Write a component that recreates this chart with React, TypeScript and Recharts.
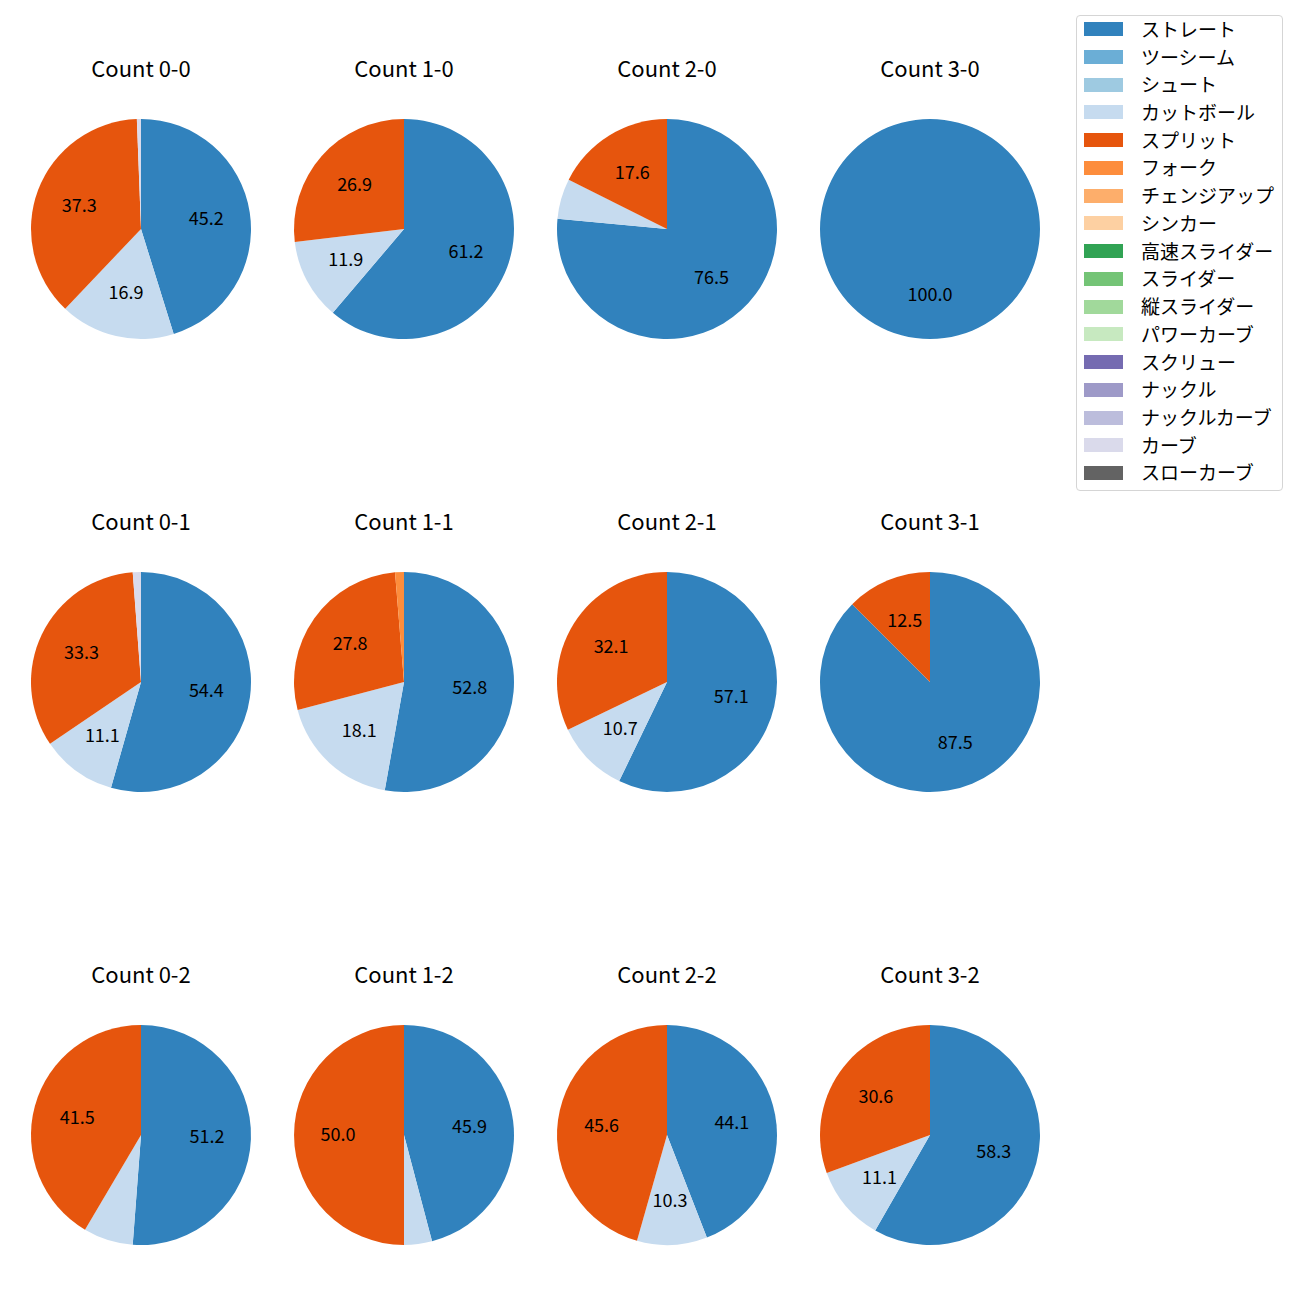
import { PieChart, Pie, Cell } from "recharts";

const pitchTypes = [
  "ストレート", "ツーシーム", "シュート", "カットボール", "スプリット", "フォーク",
  "チェンジアップ", "シンカー", "高速スライダー", "スライダー", "縦スライダー",
  "パワーカーブ", "スクリュー", "ナックル", "ナックルカーブ", "カーブ", "スローカーブ",
];

const pitchColors = [
  "#3182bd", "#6baed6", "#9ecae1", "#c6dbef", "#e6550d", "#fd8d3c",
  "#fdae6b", "#fdd0a2", "#31a354", "#74c476", "#a1d99b", "#c7e9c0",
  "#756bb1", "#9e9ac8", "#bcbddc", "#dadaeb", "#636363",
];

const countTitles = [
  "Count 0-0", "Count 1-0", "Count 2-0", "Count 3-0",
  "Count 0-1", "Count 1-1", "Count 2-1", "Count 3-1",
  "Count 0-2", "Count 1-2", "Count 2-2", "Count 3-2",
];

// share (%) per pitch type, same order as pitchTypes
const count00 = [45.2, 0, 0, 16.9, 37.3, 0, 0, 0, 0, 0, 0, 0, 0, 0, 0, 0.6, 0];
const count10 = [61.2, 0, 0, 11.9, 26.9, 0, 0, 0, 0, 0, 0, 0, 0, 0, 0, 0, 0];
const count20 = [76.5, 0, 0, 5.9, 17.6, 0, 0, 0, 0, 0, 0, 0, 0, 0, 0, 0, 0];
const count30 = [100.0, 0, 0, 0, 0, 0, 0, 0, 0, 0, 0, 0, 0, 0, 0, 0, 0];
const count01 = [54.4, 0, 0, 11.1, 33.3, 0, 0, 0, 0, 0, 0, 0, 0, 0, 0, 1.2, 0];
const count11 = [52.8, 0, 0, 18.1, 27.8, 1.3, 0, 0, 0, 0, 0, 0, 0, 0, 0, 0, 0];
const count21 = [57.1, 0, 0, 10.7, 32.1, 0, 0, 0, 0, 0, 0, 0, 0, 0, 0, 0, 0];
const count31 = [87.5, 0, 0, 0, 12.5, 0, 0, 0, 0, 0, 0, 0, 0, 0, 0, 0, 0];
const count02 = [51.2, 0, 0, 7.3, 41.5, 0, 0, 0, 0, 0, 0, 0, 0, 0, 0, 0, 0];
const count12 = [45.9, 0, 0, 4.1, 50.0, 0, 0, 0, 0, 0, 0, 0, 0, 0, 0, 0, 0];
const count22 = [44.1, 0, 0, 10.3, 45.6, 0, 0, 0, 0, 0, 0, 0, 0, 0, 0, 0, 0];
const count32 = [58.3, 0, 0, 11.1, 30.6, 0, 0, 0, 0, 0, 0, 0, 0, 0, 0, 0, 0];

const allCounts = [
  count00, count10, count20, count30,
  count01, count11, count21, count31,
  count02, count12, count22, count32,
];

const FONT = '"Noto Sans CJK JP", "Noto Sans", sans-serif';
const RAD = Math.PI / 180;
const R = 110;
const colX = [141, 404, 667, 930];
const rowY = [229, 682, 1135];

const renderLabel = (props: any) => {
  const { cx, cy, midAngle, outerRadius, value } = props;
  if (value < 10) return null;
  const r = outerRadius * 0.6;
  const x = cx + r * Math.cos(-midAngle * RAD);
  const y = cy + r * Math.sin(-midAngle * RAD) - 2;
  return (
    <text x={x} y={y} textAnchor="middle" dominantBaseline="central" fill="#000" fontSize={18} fontFamily={FONT}>
      {Number(value).toFixed(1)}
    </text>
  );
};

function CountPie({ title, values, cx, cy }: { title: string; values: number[]; cx: number; cy: number }) {
  const data = values
    .map((v, i) => ({ name: pitchTypes[i], value: v, color: pitchColors[i] }))
    .filter((d) => d.value > 0);
  const size = 260;
  return (
    <>
      <div
        style={{
          position: "absolute",
          left: cx - 120,
          width: 240,
          top: cy - 175,
          textAlign: "center",
          fontFamily: FONT,
          fontSize: 22,
          lineHeight: "26px",
          color: "#000",
        }}
      >
        {title}
      </div>
      <div style={{ position: "absolute", left: cx - size / 2, top: cy - size / 2 }}>
        <PieChart width={size} height={size} margin={{ top: 0, right: 0, bottom: 0, left: 0 }}>
          <Pie
            data={data}
            dataKey="value"
            nameKey="name"
            cx={size / 2}
            cy={size / 2}
            outerRadius={R}
            startAngle={90}
            endAngle={-270}
            stroke="none"
            label={renderLabel}
            labelLine={false}
            isAnimationActive={false}
          >
            {data.map((d) => (
              <Cell key={d.name} fill={d.color} />
            ))}
          </Pie>
        </PieChart>
      </div>
    </>
  );
}

function Legend() {
  return (
    <div
      style={{
        position: "absolute",
        left: 1076,
        top: 15,
        width: 205,
        height: 474,
        border: "1px solid #d5d5d5",
        borderRadius: 4,
        background: "#fff",
        fontFamily: FONT,
        fontSize: 19,
      }}
    >
      {pitchTypes.map((p, i) => (
        <div key={p} style={{ position: "absolute", left: 0, top: 13.3 + i * 27.73 - 14, height: 28, display: "flex", alignItems: "center" }}>
          <div style={{ marginLeft: 7, width: 39, height: 14, background: pitchColors[i] }} />
          <span style={{ marginLeft: 18, whiteSpace: "nowrap", color: "#000", position: "relative", top: -1 }}>{p}</span>
        </div>
      ))}
    </div>
  );
}

export default function App() {
  return (
    <div style={{ position: "absolute", left: 0, top: 0, width: 1300, height: 1300, background: "#fff" }}>
      {countTitles.map((t, i) => (
        <CountPie key={t} title={t} values={allCounts[i]} cx={colX[i % 4]} cy={rowY[Math.floor(i / 4)]} />
      ))}
      <Legend />
    </div>
  );
}
